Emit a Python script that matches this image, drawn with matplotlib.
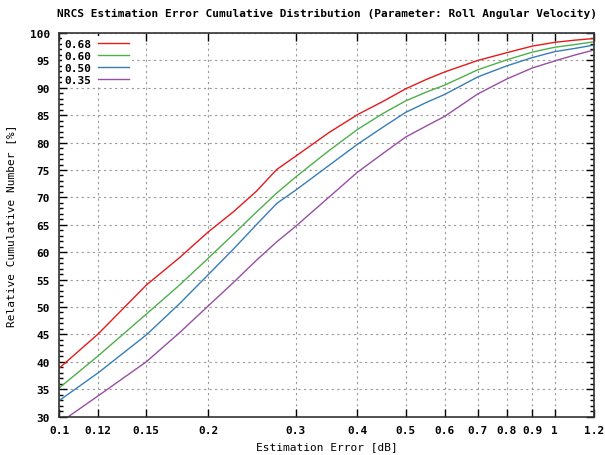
import matplotlib
matplotlib.use('Agg')
import matplotlib.pyplot as plt
from matplotlib.ticker import FixedLocator, FixedFormatter, MultipleLocator, NullLocator

# data
err = [0.1, 0.12, 0.15, 0.175, 0.2, 0.225, 0.25, 0.275, 0.3, 0.35, 0.4,
       0.45, 0.5, 0.55, 0.6, 0.7, 0.8, 0.9, 1.0, 1.1, 1.2]
cum_068 = [38.8, 45.1, 54.0, 59.0, 63.7, 67.4, 71.1, 75.1, 77.5, 81.8, 85.1,
           87.5, 89.8, 91.5, 92.9, 95.0, 96.4, 97.6, 98.3, 98.7, 99.0]
cum_060 = [35.2, 41.1, 48.7, 54.0, 58.9, 63.3, 67.3, 70.8, 73.7, 78.5, 82.4,
           85.3, 87.6, 89.2, 90.5, 93.3, 95.1, 96.5, 97.4, 97.9, 98.4]
cum_050 = [32.9, 38.0, 44.9, 50.6, 55.9, 60.6, 65.0, 68.9, 71.3, 75.8, 79.7,
           82.8, 85.5, 87.3, 88.8, 92.0, 94.0, 95.5, 96.6, 97.2, 97.8]
cum_035 = [28.8, 33.8, 40.0, 45.3, 50.2, 54.5, 58.5, 61.9, 64.7, 70.0, 74.6,
           78.0, 81.0, 83.0, 84.8, 88.9, 91.6, 93.6, 94.9, 96.0, 96.9]

labels = ['0.68', '0.60', '0.50', '0.35']
colors = ['#e41a1c', '#4daf4a', '#377eb8', '#984ea3']

xticks = [0.1, 0.12, 0.15, 0.2, 0.3, 0.4, 0.5, 0.6, 0.7, 0.8, 0.9, 1, 1.2]
xticklabels = ['0.1', '0.12', '0.15', '0.2', '0.3', '0.4', '0.5', '0.6',
               '0.7', '0.8', '0.9', '1', '1.2']

plt.rcParams['font.family'] = 'DejaVu Sans Mono'
plt.rcParams['font.weight'] = 'bold'
plt.rcParams['font.size'] = 8

fig = plt.figure(figsize=(6.05, 4.56), dpi=100)
ax = fig.add_axes([59 / 605, 1 - 417.6 / 456, 535 / 605, 383.6 / 456])

for ys, lab, c in zip([cum_068, cum_060, cum_050, cum_035], labels, colors):
    ax.plot(err, ys, color=c, linewidth=1, label=lab)

ax.set_xscale('log')
ax.set_xlim(0.1, 1.2)
ax.set_ylim(30, 100)
ax.xaxis.set_major_locator(FixedLocator(xticks))
ax.xaxis.set_major_formatter(FixedFormatter(xticklabels))
ax.xaxis.set_minor_locator(NullLocator())
ax.yaxis.set_major_locator(MultipleLocator(5))
ax.yaxis.set_minor_locator(MultipleLocator(1))

ax.tick_params(which='both', direction='in', top=True, right=True, color='black')
ax.tick_params(which='major', length=6, width=1, pad=6)
ax.tick_params(axis='y', which='major', pad=6.5)
ax.tick_params(which='minor', length=3, width=1)
for s in ax.spines.values():
    s.set_linewidth(1.2)
    s.set_color('#333333')

ax.grid(True, which='major', color='#999999', linestyle=(0, (2, 3)), linewidth=0.8)

ax.set_xlabel('Estimation Error [dB]', labelpad=4.5)
ax.set_ylabel('Relative Cumulative Number [%]', labelpad=10)
ax.set_title('NRCS Estimation Error Cumulative Distribution (Parameter: Roll Angular Velocity)',
             pad=12, fontsize=8, fontweight='bold')

leg = ax.legend(loc='upper left', markerfirst=False, handlelength=2.8,
                labelspacing=0.2, borderaxespad=0.3, borderpad=0.2,
                handletextpad=0.6, fancybox=False, framealpha=1,
                edgecolor='none', facecolor='white')

plt.savefig('out.png', dpi=100)
plt.close()
